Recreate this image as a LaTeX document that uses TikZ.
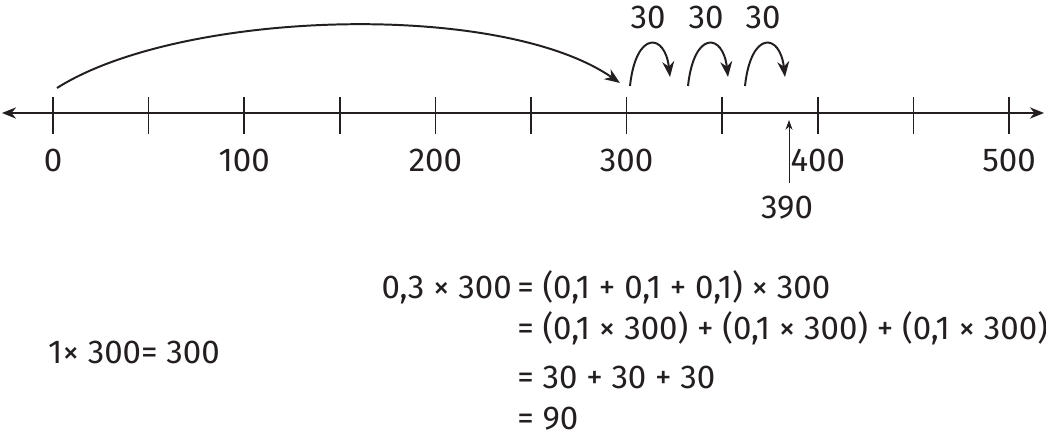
\documentclass[tikz,border=0pt]{standalone}
\usepackage{fontspec}
\setmainfont{Fira Sans}
\usepackage{tikz}
\usetikzlibrary{arrows.meta, positioning}
\definecolor{ink}{HTML}{231F20}
\tikzset{
  axis/.style={line width=1.4pt, draw=ink,
               {Stealth[length=10pt, width=8pt]}-{Stealth[length=10pt, width=8pt]}},
  tickmark/.style={line width=1.2pt, draw=ink},
  numlabel/.style={font=\fontsize{23.5}{26}\selectfont, text=ink, inner sep=0pt},
  jump/.style={line width=1.4pt, draw=ink, -{Stealth[length=11pt, width=8.5pt]}},
  marker/.style={line width=0.6pt, draw=ink, -{Stealth[length=7pt, width=5pt]}},
  eqline/.style={font=\fontsize{23.5}{26}\selectfont, text=ink, inner sep=0pt},
}

\begin{document}
\begin{tikzpicture}[x=0.025cm, y=-0.025cm]
    \useasboundingbox (0,0) rectangle (1046,438);
    %% number line with ticks every 50
    \coordinate (axL) at (2,113);
    \coordinate (axR) at (1044,113);
    \draw[axis] (axL) -- (axR);
    \foreach \i in {0,...,10}
      \draw[tickmark] ({53+95.6*\i},97) -- ({53+95.6*\i},134);
    \foreach \v [count=\k from 0] in {0,100,...,500}
      \node[numlabel, anchor=base] (n\v) at ({53+191.2*\k},172) {\v};
    %% 390 marker
    \node[numlabel, anchor=base] (n390) at (787,219) {390};
    \coordinate (m390a) at (789,183);
    \coordinate (m390b) at (789,120);
    \draw[marker] (m390a) -- (m390b);
    %% big jump 0 -> 300
    \coordinate (j0a) at (57,88);
    \coordinate (j0b) at (620,83);
    \draw[jump] (j0a) .. controls (180,10) and (500,0) .. (j0b);
    %% three jumps of 30
    \foreach \s/\x in {1/630,2/688,3/745}{
      \coordinate (j\s a) at (\x,86);
      \coordinate (j\s b) at ({\x+40},77);
      \draw[jump] (j\s a) .. controls ({\x+6},30) and ({\x+35},33) .. (j\s b);
      \node[numlabel, anchor=base] (s\s) at ({\x+18},29) {30};
    }
    %% calculations
    \node[eqline, anchor=base] (one) at (134,364) {1× 300= 300};
    \node[eqline, anchor=base east] (lhs) at (512,299) {0,3 × 300};
    \node[eqline, anchor=base west] (r1) at (517,299) {= (0,1 + 0,1 + 0,1) × 300};
    \node[eqline, anchor=base west] (r2) at (517,340) {= (0,1 × 300) + (0,1 × 300) + (0,1 × 300)};
    \node[eqline, anchor=base west] (r3) at (517,389) {= 30 + 30 + 30};
    \node[eqline, anchor=base west] (r4) at (517,430) {= 90};
\end{tikzpicture}
\end{document}
